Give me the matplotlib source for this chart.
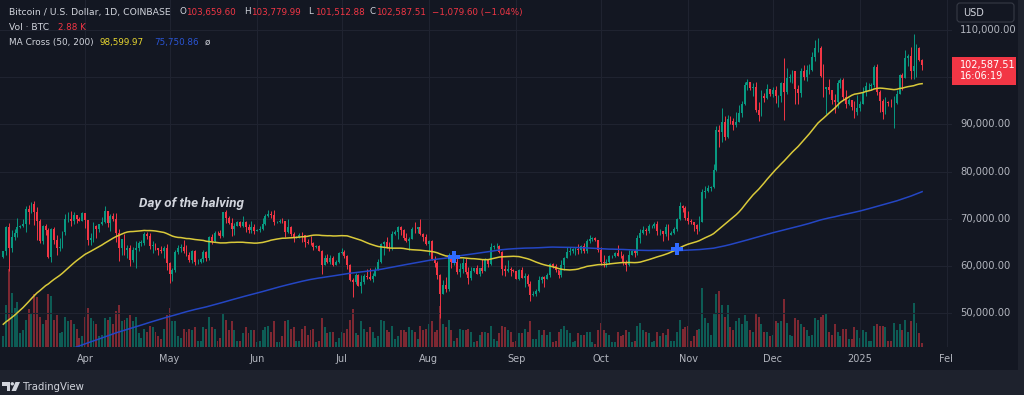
import numpy as np
import pandas as pd
import matplotlib
matplotlib.use("Agg")
import matplotlib.pyplot as plt
import matplotlib.dates as mdates
from matplotlib.patches import Rectangle, FancyBboxPatch, Polygon, Circle

# daily closes 17 Aug 2023 - 2 Mar 2024 (thousand USD), only used to warm up the MAs
pre_close = [
    26.6, 26.1, 26.2, 26.2, 26.1, 26.0, 26.4, 26.2, 26.0, 26.0, 26.1, 26.1, 27.7, 27.3, 26.0,
    25.8, 25.9, 25.9, 25.8, 25.8, 25.8, 26.2, 25.9, 25.9, 25.8, 25.1, 25.8, 26.2, 26.5, 26.6, 26.6, 26.5, 26.8, 27.2, 27.1, 26.6, 26.6, 26.6, 26.3, 26.3, 26.2, 26.4, 27.0, 26.9, 27.0,
    28.0, 27.5, 27.4, 27.8, 27.4, 27.9, 28.0, 27.9, 27.6, 27.4, 26.9, 26.8, 26.9, 26.9, 27.2, 28.5, 28.4, 28.3, 28.7, 29.7, 30.0, 30.0, 33.1, 33.9, 34.5, 34.2, 33.9, 34.1, 34.5, 34.5, 34.7,
    35.4, 34.9, 34.7, 35.1, 35.0, 35.0, 35.4, 35.6, 36.7, 37.3, 37.1, 37.1, 36.5, 35.6, 37.9, 36.2, 36.6, 36.6, 37.4, 37.5, 35.8, 37.4, 37.3, 37.7, 37.8, 37.5, 37.2, 37.8, 37.9, 37.7,
    38.7, 39.5, 39.9, 42.0, 44.1, 43.8, 43.3, 44.2, 43.8, 43.8, 41.2, 41.5, 42.9, 43.0, 41.9, 42.3, 41.4, 42.7, 42.3, 43.7, 43.9, 44.0, 43.7, 43.0, 43.6, 42.5, 43.4, 42.6, 42.1, 42.1, 42.3,
    44.2, 44.9, 42.8, 44.2, 44.2, 44.0, 43.9, 47.0, 46.1, 46.6, 46.4, 42.8, 42.9, 41.7, 42.5, 43.1, 42.7, 41.3, 41.6, 41.7, 41.6, 39.5, 39.9, 40.1, 40.0, 41.8, 42.1, 42.0, 43.3, 42.9, 42.6,
    43.1, 43.2, 43.0, 42.6, 42.7, 43.1, 44.3, 45.3, 47.1, 47.8, 48.3, 50.0, 49.7, 51.8, 52.0, 52.1, 51.6, 52.1, 51.8, 52.3, 51.9, 51.3, 50.7, 51.6, 51.7, 54.5, 57.1, 62.5, 61.2,
    62.4, 62.0,
]

# BTC / USD daily candles (Coinbase), 3 Mar 2024 - 23 Jan 2025, thousand USD
close = [
    63.1, 68.3, 63.8, 66.1, 66.9, 68.3, 68.5, 69.0, 72.1, 71.5, 73.1, 71.4, 69.5, 65.3, 68.4, 67.6, 61.9, 67.9, 65.5, 63.8, 64.0, 67.2, 69.9, 69.9, 69.5, 70.7, 69.9, 69.6, 71.3,  # mar
    69.7, 65.5, 66.0, 68.5, 67.8, 68.9, 69.4, 71.6, 69.1, 70.6, 70.0, 67.1, 63.9, 65.7, 63.4, 63.8, 61.3, 63.5, 63.8, 64.9, 64.9, 66.8, 66.4, 64.3, 64.5, 63.8, 63.5, 63.1, 63.8, 60.6,  # apr
    58.3, 59.1, 62.9, 63.9, 64.0, 63.2, 62.3, 61.2, 63.1, 60.8, 60.8, 61.5, 62.9, 61.6, 66.2, 65.2, 67.0, 66.9, 66.3, 71.4, 70.1, 69.2, 67.9, 68.5, 69.3, 68.5, 69.4, 68.3, 67.6, 68.3, 67.5,  # may
    67.7, 67.8, 68.8, 70.6, 71.1, 70.8, 69.3, 69.3, 69.6, 69.5, 67.3, 68.2, 66.7, 66.0, 66.2, 66.6, 66.5, 65.1, 64.9, 64.8, 64.1, 64.2, 63.2, 60.3, 61.8, 60.9, 61.6, 60.3, 60.9, 62.7,  # jun
    62.9, 62.1, 60.2, 57.0, 56.7, 58.2, 55.8, 56.7, 58.0, 57.7, 57.3, 57.9, 59.2, 60.8, 64.7, 65.1, 64.1, 63.9, 66.7, 67.2, 68.2, 67.6, 65.9, 65.4, 65.8, 67.9, 67.8, 68.3, 66.8, 66.2, 64.6,  # jul
    65.3, 61.5, 60.7, 58.1, 54.0, 56.0, 55.1, 61.7, 60.9, 60.9, 58.7, 59.4, 60.6, 58.7, 57.5, 58.9, 59.5, 58.4, 59.5, 59.0, 61.2, 60.4, 64.1, 64.2, 64.2, 62.9, 59.4, 59.0, 59.4, 59.1, 58.9,  # aug
    57.3, 59.1, 57.5, 57.9, 56.1, 53.9, 54.1, 54.8, 57.0, 57.6, 57.3, 58.1, 60.5, 60.0, 59.1, 58.2, 60.3, 61.7, 62.9, 63.2, 63.6, 63.6, 63.3, 64.3, 63.1, 65.2, 65.8, 65.9, 65.6, 63.3,  # sep
    60.8, 60.6, 60.8, 62.1, 62.1, 62.8, 62.2, 62.1, 60.6, 60.3, 62.4, 63.2, 62.8, 66.0, 67.0, 67.6, 67.4, 68.4, 68.4, 69.0, 67.4, 67.4, 66.7, 68.2, 66.6, 67.0, 67.9, 69.9, 72.7, 72.3, 70.2,  # oct
    69.5, 69.3, 68.7, 67.8, 69.4, 75.6, 75.9, 76.5, 76.7, 80.4, 88.7, 88.3, 90.5, 87.3, 91.1, 90.6, 89.8, 90.5, 92.3, 94.3, 98.4, 98.9, 97.7, 97.9, 93.0, 91.9, 95.9, 95.6, 97.5, 96.4,  # nov
    97.2, 95.9, 96.0, 98.8, 96.9, 99.9, 99.9, 101.2, 97.4, 96.6, 101.2, 100.0, 101.4, 101.4, 104.3, 106.1, 106.1, 100.2, 97.5, 97.8, 97.2, 95.1, 94.7, 98.7, 99.4, 95.8, 94.2, 95.1, 93.6, 92.7, 93.4,  # dec
    94.4, 96.9, 98.1, 98.2, 98.3, 102.2, 96.9, 95.0, 92.5, 94.7, 94.6, 94.5, 94.5, 96.5, 100.5, 99.9, 104.1, 104.5, 101.3, 102.3, 106.1, 103.6596, 102.58751,  # jan
]
high = [
    63.2, 68.5, 69.2, 67.6, 67.9, 70.1, 68.7, 69.9, 72.7, 72.9, 73.6, 73.8, 72.4, 70.0, 68.6, 68.9, 68.1, 68.1, 68.2, 66.6, 65.9, 67.5, 71.1, 71.5, 71.7, 71.5, 70.9, 70.3, 71.4,
    71.3, 69.7, 66.9, 69.3, 68.7, 69.0, 70.3, 72.7, 71.7, 71.1, 71.2, 71.2, 67.9, 65.8, 66.8, 64.4, 64.4, 64.0, 65.4, 65.4, 65.6, 67.2, 67.2, 67.1, 65.2, 64.8, 63.9, 64.3, 64.2, 64.7,
    60.8, 59.6, 63.3, 64.5, 64.6, 65.5, 64.4, 62.9, 63.4, 63.5, 61.5, 61.8, 63.4, 63.1, 66.4, 66.7, 67.4, 67.4, 67.7, 71.5, 71.9, 70.6, 70.1, 69.2, 69.5, 69.5, 70.6, 69.5, 68.9, 69.5, 69.0,
    67.9, 68.4, 70.2, 71.0, 71.8, 71.6, 71.9, 69.5, 69.9, 70.2, 69.6, 69.9, 68.4, 67.3, 66.4, 66.9, 67.2, 66.6, 65.7, 66.4, 65.0, 64.5, 64.5, 63.3, 62.3, 62.5, 62.3, 62.2, 61.2, 63.0,
    63.8, 63.3, 62.3, 60.5, 57.5, 58.5, 58.3, 58.2, 58.3, 59.4, 59.5, 58.5, 59.8, 61.4, 64.9, 65.3, 66.1, 65.1, 67.4, 67.6, 68.4, 68.5, 67.8, 67.1, 66.1, 68.2, 69.4, 68.3, 70.0, 66.9, 66.8,
    65.6, 65.6, 62.2, 61.1, 58.3, 57.1, 57.7, 62.7, 61.7, 61.5, 61.8, 60.7, 61.6, 61.8, 59.8, 59.8, 59.6, 60.3, 59.6, 61.4, 61.8, 61.4, 64.9, 64.5, 64.9, 64.5, 63.2, 60.2, 61.2, 59.9, 59.4,
    59.0, 59.4, 59.8, 58.5, 58.3, 56.9, 54.8, 55.2, 58.0, 58.0, 57.9, 58.6, 60.6, 60.6, 60.4, 59.2, 61.3, 61.9, 64.1, 64.1, 63.9, 64.0, 64.7, 64.5, 64.8, 65.8, 66.5, 66.2, 66.1, 65.6,
    64.1, 62.4, 61.4, 62.4, 62.4, 63.0, 64.4, 63.2, 62.5, 61.3, 63.4, 63.4, 63.3, 66.5, 67.9, 68.4, 68.1, 68.9, 68.7, 69.4, 69.5, 67.8, 67.4, 68.8, 68.8, 67.4, 68.2, 70.2, 73.6, 72.9, 72.7,
    71.6, 69.9, 69.4, 69.0, 70.6, 76.4, 76.9, 77.2, 76.9, 81.5, 89.6, 89.9, 93.4, 91.8, 91.9, 91.8, 91.4, 92.6, 94.0, 94.9, 98.9, 99.6, 99.0, 98.7, 98.9, 94.7, 97.3, 96.6, 98.6, 97.5,
    97.8, 98.2, 96.3, 99.0, 104.1, 101.9, 100.6, 101.4, 101.2, 98.3, 101.9, 102.5, 102.6, 102.7, 105.2, 107.8, 108.3, 106.5, 102.8, 98.0, 99.5, 97.3, 96.5, 99.4, 99.9, 99.9, 97.3, 95.5, 95.2, 94.9, 96.2,
    94.9, 97.8, 98.9, 98.7, 98.8, 102.5, 102.7, 97.2, 95.3, 95.8, 95.0, 95.4, 95.9, 97.3, 100.7, 100.8, 105.8, 104.9, 106.3, 109.1, 107.1, 106.3, 103.78,
]
low = [
    61.6, 62.4, 59.0, 62.9, 65.6, 66.2, 68.0, 68.2, 67.2, 68.9, 71.3, 68.6, 65.6, 64.8, 64.6, 66.6, 61.6, 60.8, 64.6, 62.3, 63.2, 63.8, 66.6, 69.3, 68.4, 68.9, 69.1, 69.5, 69.6,
    68.1, 64.5, 64.5, 65.1, 66.0, 67.3, 68.7, 69.1, 68.2, 67.5, 69.6, 65.1, 61.0, 62.3, 62.3, 61.7, 60.0, 60.8, 59.6, 63.1, 64.3, 64.5, 65.8, 63.6, 62.8, 63.3, 62.4, 62.8, 61.8, 59.2,
    56.5, 56.9, 58.8, 62.6, 62.9, 62.7, 62.1, 60.9, 60.6, 60.2, 60.5, 60.6, 60.8, 61.1, 61.3, 64.6, 65.1, 66.6, 65.9, 66.1, 69.2, 68.9, 66.3, 66.6, 68.5, 68.2, 68.3, 67.2, 67.1, 67.1, 66.7,
    67.4, 67.3, 67.6, 68.6, 70.4, 70.1, 68.6, 69.1, 69.1, 69.2, 66.1, 66.9, 66.3, 65.1, 65.9, 66.0, 65.1, 64.1, 64.7, 64.5, 63.4, 63.9, 63.2, 58.4, 60.3, 60.7, 60.5, 60.1, 60.2, 60.7,
    62.5, 61.8, 59.4, 56.8, 53.5, 56.1, 55.7, 54.3, 56.3, 57.2, 57.0, 56.6, 57.8, 59.2, 60.6, 62.4, 63.9, 63.2, 63.3, 66.5, 65.8, 66.6, 65.5, 65.1, 63.4, 65.7, 66.9, 67.1, 66.5, 65.3, 64.5,
    62.3, 61.3, 59.9, 57.3, 49.1, 54.0, 54.6, 54.7, 59.6, 60.3, 58.4, 57.7, 58.5, 58.4, 56.1, 57.1, 58.8, 58.4, 57.9, 58.6, 58.9, 59.8, 60.3, 63.6, 63.9, 62.8, 58.1, 57.9, 58.8, 57.8, 58.7,
    57.2, 57.1, 57.4, 55.6, 55.7, 52.6, 53.7, 53.6, 54.6, 56.4, 55.5, 57.3, 57.6, 59.5, 58.7, 57.5, 57.6, 59.2, 61.7, 62.4, 62.8, 62.4, 62.6, 62.7, 62.7, 62.7, 64.9, 65.4, 65.4, 62.9,
    60.2, 59.9, 59.9, 60.5, 61.7, 61.9, 62.1, 61.8, 60.3, 58.9, 60.1, 62.4, 62.0, 62.4, 64.8, 66.7, 66.6, 67.1, 68.1, 68.1, 66.6, 66.6, 65.3, 66.4, 65.5, 66.6, 66.8, 67.5, 69.7, 71.4, 69.7,
    68.8, 69.0, 67.5, 66.8, 67.5, 69.3, 74.5, 75.6, 75.8, 76.5, 80.2, 85.1, 86.3, 86.7, 87.1, 90.1, 88.8, 89.4, 90.4, 91.5, 94.1, 97.2, 97.2, 95.9, 92.6, 90.8, 91.8, 94.7, 95.3, 96.0,
    95.8, 94.5, 93.6, 94.7, 91.0, 96.5, 99.0, 98.7, 94.2, 94.3, 95.7, 99.3, 99.2, 100.7, 101.2, 103.3, 105.3, 100.0, 95.7, 92.2, 96.4, 94.2, 92.4, 93.4, 97.6, 95.2, 93.4, 94.1, 93.1, 91.3, 92.0,
    92.8, 94.2, 96.0, 97.3, 97.3, 97.9, 96.1, 92.5, 91.2, 92.2, 93.8, 93.7, 89.2, 94.3, 96.5, 97.3, 99.9, 102.3, 99.5, 99.5, 100.1, 103.4, 101.51,
]
# volume, thousand BTC
volume = [
    7, 28, 52, 36, 26, 30, 9, 11, 18, 25, 22, 35, 33, 20, 15, 18, 35, 34, 18, 21, 9, 10, 20, 17, 18, 15, 12, 6, 7,
    20, 26, 19, 17, 15, 7, 8, 19, 18, 20, 15, 24, 28, 17, 18, 19, 21, 17, 20, 9, 6, 12, 10, 14, 13, 10, 7, 5, 12, 21,
    26, 17, 17, 7, 6, 12, 10, 12, 11, 13, 4, 4, 13, 12, 20, 13, 12, 4, 6, 22, 18, 11, 17, 11, 4, 4, 9, 13, 9, 11, 11,
    3, 4, 11, 13, 14, 10, 17, 3, 3, 7, 17, 18, 12, 13, 4, 4, 12, 14, 8, 11, 12, 3, 4, 19, 13, 9, 10, 10, 3, 6,
    10, 9, 12, 18, 25, 9, 8, 17, 12, 10, 13, 10, 6, 7, 18, 17, 11, 10, 14, 5, 7, 11, 11, 10, 13, 11, 10, 5, 14, 11, 12,
    15, 17, 10, 11, 27, 15, 13, 18, 11, 4, 6, 12, 11, 11, 12, 10, 3, 4, 8, 10, 10, 9, 14, 5, 4, 9, 14, 13, 11, 10, 3,
    4, 9, 9, 12, 10, 17, 5, 5, 11, 8, 11, 8, 10, 3, 4, 10, 12, 14, 11, 9, 3, 4, 9, 8, 8, 10, 10, 3, 2, 11,
    16, 11, 9, 8, 3, 3, 10, 7, 8, 11, 10, 3, 4, 14, 16, 11, 10, 9, 3, 4, 10, 7, 9, 8, 12, 4, 4, 10, 18, 12, 13,
    14, 4, 7, 11, 12, 39, 19, 16, 8, 22, 35, 37, 28, 20, 28, 13, 11, 17, 19, 15, 21, 17, 11, 10, 22, 20, 15, 10, 10, 7,
    8, 17, 16, 17, 32, 16, 8, 7, 19, 18, 15, 13, 11, 7, 8, 19, 18, 20, 21, 22, 10, 8, 15, 10, 7, 12, 12, 5, 5, 13, 11,
    6, 11, 10, 4, 4, 14, 15, 14, 14, 13, 4, 4, 16, 11, 15, 11, 18, 10, 17, 29, 16, 9, 2.88,
]

month_ticks = ["2024-04-01", "2024-05-01", "2024-06-01", "2024-07-01", "2024-08-01", "2024-09-01",
               "2024-10-01", "2024-11-01", "2024-12-01", "2025-01-01", "2025-02-01"]
month_labels = ["Apr", "May", "Jun", "Jul", "Aug", "Sep", "Oct", "Nov", "Dec", "2025", "Feb"]
price_ticks = [50000, 60000, 70000, 80000, 90000, 100000, 110000]

GREEN, RED = "#089981", "#f23645"
VGREEN, VRED = "#0d5c55", "#7d2832"
TXT, AXT = "#d1d4dc", "#b2b5be"

W, H = 1024, 395
def frame(x0, y0, x1, y1):
    return [x0 / W, 1 - y1 / H, (x1 - x0) / W, (y1 - y0) / H]

c = np.array(close) * 1000
hi = np.array(high) * 1000
lo = np.array(low) * 1000
o = np.r_[pre_close[-1], close[:-1]] * 1000
vol = np.array(volume)
dates = pd.date_range("2024-03-03", periods=len(c), freq="D")
x = mdates.date2num(dates)
up = c >= o

# MA Cross (50, 200)
allc = pd.Series(np.r_[pre_close, close] * 1000)
ma50 = allc.rolling(50).mean().to_numpy()[len(pre_close):]
ma200 = allc.rolling(200).mean().to_numpy()[len(pre_close):]
sgn = np.sign(ma50 - ma200)
cross = np.where(sgn[1:] != sgn[:-1])[0] + 1

fig = plt.figure(figsize=(W / 100, H / 100), dpi=100)
fig.patch.set_facecolor("#1e222d")

bg = fig.add_axes([0, 0, 1, 1])
bg.set_xlim(0, W); bg.set_ylim(H, 0); bg.axis("off")
bg.add_patch(Rectangle((0, 0), 1018, 370, fc="#131722", ec="none"))

ax = fig.add_axes(frame(0, 0, 952, 347))
axv = fig.add_axes(frame(0, 0, 952, 347), sharex=ax)
axv.set_zorder(1); ax.set_zorder(2)
for a in (ax, axv):
    a.patch.set_visible(False)
    for s in a.spines.values():
        s.set_visible(False)

ylo, yhi = 42868, 116307
ax.set_xlim(x[0] - 1.17, x[0] + 336.6)
ax.set_ylim(ylo, yhi)

# volume
axv.bar(x, vol, width=0.7, color=np.where(up, VGREEN, VRED), linewidth=0)
axv.set_ylim(0, 231)
axv.axis("off")

# candles
col = np.where(up, GREEN, RED)
ax.vlines(x, lo, hi, colors=col, linewidth=0.7, zorder=3)
body = np.maximum(np.abs(c - o), 90)
ax.bar(x, body, bottom=np.minimum(o, c), width=0.68, color=col, linewidth=0, zorder=4)

ax.plot(x, ma200, color="#2446c4", lw=1.1, zorder=5)
ax.plot(x, ma50, color="#d9c93a", lw=1.1, zorder=6)
ax.plot(x[cross], ma50[cross], ls="none", marker="P", ms=9, mew=0, color="#2f6bff", zorder=7)

ax.text(mdates.date2num(pd.Timestamp("2024-04-20")), 73300, "Day of the halving", family="Roboto",
        style="italic", weight="bold", fontsize=9.6, color=TXT, ha="left", va="center", zorder=8)

ax.set_xticks(mdates.date2num(pd.to_datetime(month_ticks)))
ax.set_xticklabels(month_labels)
ax.set_yticks(price_ticks)
ax.tick_params(axis="x", length=0, pad=5, labelsize=7, labelcolor=AXT)
ax.tick_params(axis="y", length=0, labelleft=False)
ax.grid(True, color="#1f2330", lw=0.8)
ax.set_axisbelow(True)

# price scale
axr = fig.add_axes(frame(952, 0, 1018, 347), sharey=ax)
axr.set_zorder(3)
axr.set_facecolor("#131722")
axr.set_xticks([])
axr.tick_params(axis="y", length=0, labelleft=False)
for s in axr.spines.values():
    s.set_visible(False)
ytr = axr.get_yaxis_transform()
px = (yhi - ylo) / 347
for p in price_ticks:
    if c[-1] - 25 * px < p < c[-1] + 13 * px:
        continue  # under the last-price tag
    axr.text(0.12, p, f"{p:,.2f}", transform=ytr, fontsize=7.2, color=AXT, ha="left", va="center")
axr.add_patch(Rectangle((0, c[-1] - 20 * px), 0.975, 28 * px, transform=ytr, fc=RED, ec="none", zorder=4))
axr.text(0.12, c[-1], f"{c[-1]:,.2f}", transform=ytr, fontsize=7, color="white", ha="left", va="center", zorder=5)
axr.text(0.12, c[-1] - 11.5 * px, "16:06:19", transform=ytr, fontsize=7, color="white", ha="left",
         va="center", zorder=5)

# overlay: legend, currency button, footer
ov = fig.add_axes([0, 0, 1, 1])
ov.set_zorder(5)
ov.set_xlim(0, W); ov.set_ylim(H, 0); ov.axis("off")
ov.add_patch(Rectangle((952, 347), 66, 23, fc="#131722", ec="none"))

fs = 6.3
ov.text(9, 12, "Bitcoin / U.S. Dollar, 1D, COINBASE", fontsize=6.7, color=TXT, va="center")
ohlc = [("O", 179, "103,659.60"), ("H", 244, "103,779.99"), ("L", 308, "101,512.88"), ("C", 369, "102,587.51")]
for k, xx, v in ohlc:
    ov.text(xx, 12, k, fontsize=fs, color=TXT, va="center")
    ov.text(xx + 7.5, 12, v, fontsize=fs, color=RED, va="center")
ov.text(432, 12, "\u22121,079.60 (\u22121.04%)", fontsize=fs, color=RED, va="center")
ov.text(9, 27, "Vol \u00b7 BTC", fontsize=6.6, color=TXT, va="center")
ov.text(58, 27, "2.88 K", fontsize=fs, color=RED, va="center")
ov.text(9, 42, "MA Cross (50, 200)", fontsize=6.4, color=TXT, va="center")
ov.text(100, 42, "98,599.97", fontsize=fs, color="#e8d730", va="center")
ov.text(154, 42, "75,750.86", fontsize=fs, color="#2a55d5", va="center")
ov.text(205, 42, "\u00f8", fontsize=fs, color=TXT, va="center")

ov.add_patch(FancyBboxPatch((957, 3), 57, 19, boxstyle="round,pad=0,rounding_size=3",
                            fc="#131722", ec="#363a45", lw=0.8))
ov.text(963, 12.5, "USD", fontsize=7, color=TXT, va="center")

# TradingView logo
ov.add_patch(Polygon([(2, 382), (10, 382), (10, 391), (6.5, 391), (6.5, 385.5), (2, 385.5)], fc=TXT, ec="none"))
ov.add_patch(Circle((12.3, 383.8), 1.7, fc=TXT, ec="none"))
ov.add_patch(Polygon([(15.5, 382), (20, 382), (16, 391), (11.5, 391)], fc=TXT, ec="none"))
ov.text(23, 386.5, "TradingView", fontsize=7.3, color=TXT, va="center")

fig.savefig("out.png", dpi=100, facecolor=fig.get_facecolor())
